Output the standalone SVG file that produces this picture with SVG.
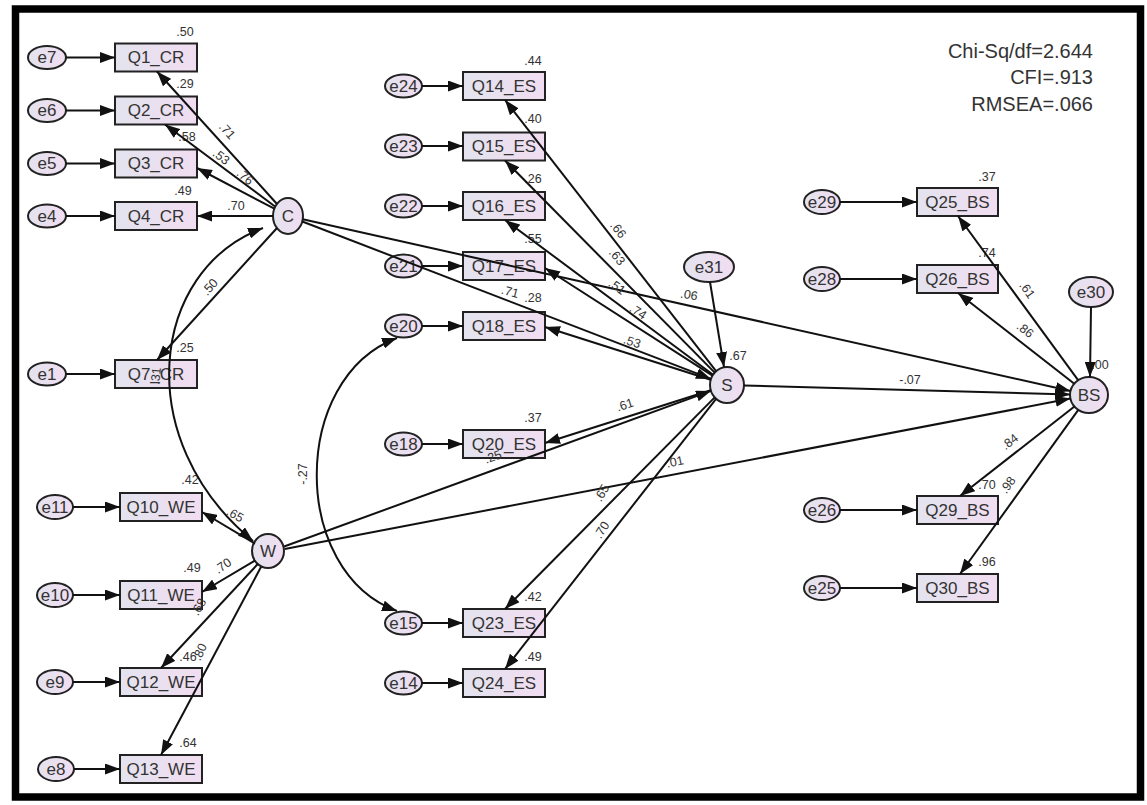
<svg xmlns="http://www.w3.org/2000/svg" width="1147" height="805" viewBox="0 0 1147 805">
<defs>
<linearGradient id="g" x1="0" y1="0" x2="1" y2="0">
<stop offset="0" stop-color="#e3e3ee"/>
<stop offset="1" stop-color="#f1ddf1"/>
</linearGradient>
<marker id="a" markerUnits="userSpaceOnUse" markerWidth="15" markerHeight="11" refX="15" refY="5.5" orient="auto-start-reverse">
<path d="M0,0 L15,5.5 L0,11 z" fill="#111"/>
</marker>
<style>
.r{fill:url(#g);stroke:#222;stroke-width:2}
.e{fill:url(#g);stroke:#222;stroke-width:2}
.t{font-family:"Liberation Sans",Arial,sans-serif;font-size:17px;fill:#333;text-anchor:middle;dominant-baseline:central}
.l{font-family:"Liberation Sans",Arial,sans-serif;font-size:12.5px;fill:#333;text-anchor:middle;dominant-baseline:central}
.f{font-family:"Liberation Sans",Arial,sans-serif;font-size:20px;fill:#333;text-anchor:end}
.c{stroke:#111;stroke-width:2;fill:none;marker-end:url(#a)}
.cv{stroke:#111;stroke-width:2;fill:none;marker-start:url(#a);marker-end:url(#a)}
</style>
</defs>
<rect x="0" y="0" width="1147" height="805" fill="#fff"/>
<rect x="15.5" y="9" width="1125" height="788" fill="none" stroke="#000" stroke-width="7.5"/>

<g id="C"><ellipse class="e" cx="288" cy="216" rx="15" ry="18"/><text class="t" x="288" y="216">C</text></g>
<g id="W"><ellipse class="e" cx="268" cy="551" rx="16" ry="17"/><text class="t" x="268" y="551">W</text></g>
<g id="S"><ellipse class="e" cx="727" cy="385" rx="17" ry="18"/><text class="t" x="727" y="385">S</text><text class="l" x="738" y="356">.67</text></g>
<g id="BS"><ellipse class="e" cx="1089" cy="395" rx="19" ry="18"/><text class="t" x="1089" y="395">BS</text><text class="l" x="1100" y="365">.00</text></g>
<g id="e31"><ellipse class="e" cx="709" cy="267" rx="25" ry="15"/><text class="t" x="709" y="267">e31</text></g>
<g id="e30"><ellipse class="e" cx="1091" cy="292" rx="22" ry="15"/><text class="t" x="1091" y="292">e30</text></g>

<g id="Q1_CR"><rect class="r" x="115" y="43.5" width="82" height="28"/><text class="t" x="156" y="57.5">Q1_CR</text><text class="l" x="185" y="32">.50</text></g>
<g id="Q2_CR"><rect class="r" x="115" y="96.5" width="82" height="28"/><text class="t" x="156" y="110.5">Q2_CR</text><text class="l" x="185" y="84">.29</text></g>
<g id="Q3_CR"><rect class="r" x="115" y="149.5" width="82" height="28"/><text class="t" x="156" y="163.5">Q3_CR</text><text class="l" x="187" y="137">.58</text></g>
<g id="Q4_CR"><rect class="r" x="115" y="202" width="82" height="28"/><text class="t" x="156" y="216">Q4_CR</text><text class="l" x="183" y="191">.49</text></g>
<g id="Q7_CR"><rect class="r" x="115" y="360" width="82" height="28"/><text class="t" x="156" y="374">Q7_CR</text><text class="l" x="185" y="348">.25</text></g>
<g id="Q10_WE"><rect class="r" x="120" y="493" width="82" height="28"/><text class="t" x="161" y="507">Q10_WE</text><text class="l" x="190" y="480">.42</text></g>
<g id="Q11_WE"><rect class="r" x="120" y="581" width="82" height="28"/><text class="t" x="161" y="595">Q11_WE</text><text class="l" x="192" y="568">.49</text></g>
<g id="Q12_WE"><rect class="r" x="120" y="668" width="82" height="28"/><text class="t" x="161" y="682">Q12_WE</text><text class="l" x="188" y="657">.46</text></g>
<g id="Q13_WE"><rect class="r" x="120" y="755" width="82" height="28"/><text class="t" x="161" y="769">Q13_WE</text><text class="l" x="188" y="743">.64</text></g>
<g id="Q14_ES"><rect class="r" x="463" y="72" width="82" height="28"/><text class="t" x="504" y="86">Q14_ES</text><text class="l" x="533" y="61">.44</text></g>
<g id="Q15_ES"><rect class="r" x="463" y="132.5" width="82" height="28"/><text class="t" x="504" y="146">Q15_ES</text><text class="l" x="533" y="119">.40</text></g>
<g id="Q16_ES"><rect class="r" x="463" y="192" width="82" height="28"/><text class="t" x="504" y="206">Q16_ES</text><text class="l" x="533" y="179">.26</text></g>
<g id="Q17_ES"><rect class="r" x="463" y="252" width="82" height="28"/><text class="t" x="504" y="266">Q17_ES</text><text class="l" x="533" y="239">.55</text></g>
<g id="Q18_ES"><rect class="r" x="463" y="312" width="82" height="28"/><text class="t" x="504" y="326">Q18_ES</text><text class="l" x="533" y="298">.28</text></g>
<g id="Q20_ES"><rect class="r" x="463" y="430" width="82" height="28"/><text class="t" x="504" y="444">Q20_ES</text><text class="l" x="533" y="418">.37</text></g>
<g id="Q23_ES"><rect class="r" x="463" y="609" width="82" height="28"/><text class="t" x="504" y="623">Q23_ES</text><text class="l" x="533" y="597">.42</text></g>
<g id="Q24_ES"><rect class="r" x="463" y="669" width="82" height="28"/><text class="t" x="504" y="683">Q24_ES</text><text class="l" x="533" y="657">.49</text></g>
<g id="Q25_BS"><rect class="r" x="917" y="188" width="81" height="28"/><text class="t" x="957.5" y="202">Q25_BS</text><text class="l" x="987" y="177">.37</text></g>
<g id="Q26_BS"><rect class="r" x="917" y="265" width="81" height="28"/><text class="t" x="957.5" y="279">Q26_BS</text><text class="l" x="987" y="253">.74</text></g>
<g id="Q29_BS"><rect class="r" x="917" y="496" width="81" height="28"/><text class="t" x="957.5" y="510">Q29_BS</text><text class="l" x="987" y="485">.70</text></g>
<g id="Q30_BS"><rect class="r" x="917" y="574" width="81" height="28"/><text class="t" x="957.5" y="588">Q30_BS</text><text class="l" x="987" y="562">.96</text></g>

<g id="e7"><ellipse class="e" cx="47" cy="57.5" rx="19" ry="11.5"/><text class="t" x="47" y="57.5">e7</text></g>
<g id="e6"><ellipse class="e" cx="47" cy="110.5" rx="19" ry="11.5"/><text class="t" x="47" y="110.5">e6</text></g>
<g id="e5"><ellipse class="e" cx="47" cy="163.5" rx="19" ry="11.5"/><text class="t" x="47" y="163.5">e5</text></g>
<g id="e4"><ellipse class="e" cx="47" cy="216" rx="19" ry="11.5"/><text class="t" x="47" y="216">e4</text></g>
<g id="e1"><ellipse class="e" cx="47" cy="374" rx="19" ry="11.5"/><text class="t" x="47" y="374">e1</text></g>
<g id="e11"><ellipse class="e" cx="55" cy="507" rx="18" ry="12"/><text class="t" x="55" y="507">e11</text></g>
<g id="e10"><ellipse class="e" cx="55" cy="595" rx="18" ry="12"/><text class="t" x="55" y="595">e10</text></g>
<g id="e9"><ellipse class="e" cx="55" cy="682" rx="18" ry="12"/><text class="t" x="55" y="682">e9</text></g>
<g id="e8"><ellipse class="e" cx="56" cy="769" rx="18" ry="12"/><text class="t" x="56" y="769">e8</text></g>
<g id="e24"><ellipse class="e" cx="403.5" cy="86" rx="18.5" ry="11.5"/><text class="t" x="403.5" y="86">e24</text></g>
<g id="e23"><ellipse class="e" cx="403.5" cy="146" rx="18.5" ry="11.5"/><text class="t" x="403.5" y="146">e23</text></g>
<g id="e22"><ellipse class="e" cx="403.5" cy="206" rx="18.5" ry="11.5"/><text class="t" x="403.5" y="206">e22</text></g>
<g id="e21"><ellipse class="e" cx="403.5" cy="266" rx="18.5" ry="11.5"/><text class="t" x="403.5" y="266">e21</text></g>
<g id="e20"><ellipse class="e" cx="403.5" cy="326" rx="18.5" ry="11.5"/><text class="t" x="403.5" y="326">e20</text></g>
<g id="e18"><ellipse class="e" cx="403.5" cy="444" rx="18.5" ry="11.5"/><text class="t" x="403.5" y="444">e18</text></g>
<g id="e15"><ellipse class="e" cx="403.5" cy="623" rx="18.5" ry="11.5"/><text class="t" x="403.5" y="623">e15</text></g>
<g id="e14"><ellipse class="e" cx="403.5" cy="683" rx="18.5" ry="11.5"/><text class="t" x="403.5" y="683">e14</text></g>
<g id="e29"><ellipse class="e" cx="822" cy="202" rx="18" ry="12"/><text class="t" x="822" y="202">e29</text></g>
<g id="e28"><ellipse class="e" cx="822" cy="279" rx="18" ry="12"/><text class="t" x="822" y="279">e28</text></g>
<g id="e26"><ellipse class="e" cx="822" cy="510" rx="18" ry="12"/><text class="t" x="822" y="510">e26</text></g>
<g id="e25"><ellipse class="e" cx="822" cy="588" rx="18" ry="12"/><text class="t" x="822" y="588">e25</text></g>

<g id="connectors">
<line class="c" x1="66" y1="57.5" x2="115" y2="57.5"/>
<line class="c" x1="66" y1="110.5" x2="115" y2="110.5"/>
<line class="c" x1="66" y1="163.5" x2="115" y2="163.5"/>
<line class="c" x1="66" y1="216" x2="115" y2="216"/>
<line class="c" x1="66" y1="374" x2="115" y2="374"/>
<line class="c" x1="73" y1="507" x2="120" y2="507"/>
<line class="c" x1="73" y1="595" x2="120" y2="595"/>
<line class="c" x1="73" y1="682" x2="120" y2="682"/>
<line class="c" x1="74" y1="769" x2="120" y2="769"/>
<line class="c" x1="422" y1="86" x2="463" y2="86"/>
<line class="c" x1="422" y1="146" x2="463" y2="146"/>
<line class="c" x1="422" y1="206" x2="463" y2="206"/>
<line class="c" x1="422" y1="266" x2="463" y2="266"/>
<line class="c" x1="422" y1="326" x2="463" y2="326"/>
<line class="c" x1="422" y1="444" x2="463" y2="444"/>
<line class="c" x1="422" y1="623" x2="463" y2="623"/>
<line class="c" x1="422" y1="683" x2="463" y2="683"/>
<line class="c" x1="840" y1="202" x2="917" y2="202"/>
<line class="c" x1="840" y1="279" x2="917" y2="279"/>
<line class="c" x1="840" y1="510" x2="917" y2="510"/>
<line class="c" x1="840" y1="588" x2="917" y2="588"/>
<line class="c" x1="710" y1="282" x2="724" y2="367"/>
<line class="c" x1="1091" y1="307" x2="1090" y2="377"/>
<line class="c" x1="277" y1="204" x2="157" y2="71.5"/>
<line class="c" x1="275" y1="206.5" x2="165" y2="124.5"/>
<line class="c" x1="274.3" y1="208.7" x2="197" y2="168"/>
<line class="c" x1="273" y1="216" x2="197" y2="216"/>
<line class="c" x1="277" y1="228" x2="157" y2="360"/>
<line class="c" x1="255" y1="543.7" x2="202" y2="512"/>
<line class="c" x1="255.3" y1="560.3" x2="202" y2="592"/>
<line class="c" x1="257.8" y1="564" x2="161" y2="668"/>
<line class="c" x1="261.1" y1="566.8" x2="161" y2="755"/>
<line class="c" x1="716.1" y1="371.1" x2="505" y2="100"/>
<line class="c" x1="714.7" y1="372.6" x2="505" y2="160.5"/>
<line class="c" x1="713.1" y1="374.7" x2="505" y2="220"/>
<line class="c" x1="712.5" y1="375.6" x2="545" y2="268"/>
<line class="c" x1="710.7" y1="379.8" x2="545" y2="327"/>
<line class="c" x1="710.7" y1="390.2" x2="545" y2="443"/>
<line class="c" x1="714.7" y1="397.4" x2="505" y2="609"/>
<line class="c" x1="716.1" y1="398.9" x2="505" y2="669"/>
<line class="c" x1="1078.1" y1="380.2" x2="958" y2="216"/>
<line class="c" x1="1074.3" y1="383.7" x2="958" y2="293"/>
<line class="c" x1="1074.4" y1="406.5" x2="960" y2="496"/>
<line class="c" x1="1078.3" y1="409.9" x2="960" y2="574"/>
<line class="c" x1="302.3" y1="221.5" x2="711" y2="378.9"/>
<line class="c" x1="302.8" y1="219.3" x2="1070.5" y2="390.9"/>
<line class="c" x1="284.1" y1="546.5" x2="710.9" y2="390.9"/>
<line class="c" x1="284.7" y1="549" x2="1070.4" y2="398.6"/>
<line class="c" x1="744" y1="385.5" x2="1070" y2="394.5"/>
<path class="cv" d="M263,228 C150,270 130,440 253,541"/>
<path class="cv" d="M397,338 C290,378 290,572 397,611"/>
</g>

<g id="coefficients">
<text class="l" x="227" y="131" transform="rotate(48 227 131)">.71</text>
<text class="l" x="221" y="157" transform="rotate(37 221 157)">.53</text>
<text class="l" x="245" y="177" transform="rotate(40 245 177)">.76</text>
<text class="l" x="236" y="206">.70</text>
<text class="l" x="210" y="287" transform="rotate(-48 210 287)">.50</text>
<text class="l" x="156" y="376" transform="rotate(-85 156 376)">.31</text>
<text class="l" x="235" y="515" transform="rotate(30 235 515)">.65</text>
<text class="l" x="223" y="566" transform="rotate(-35 223 566)">.70</text>
<text class="l" x="199" y="607" transform="rotate(-60 199 607)">.68</text>
<text class="l" x="200" y="652" transform="rotate(-65 200 652)">.80</text>
<text class="l" x="618" y="230" transform="rotate(52 618 230)">.66</text>
<text class="l" x="617" y="257" transform="rotate(50 617 257)">.63</text>
<text class="l" x="617" y="287" transform="rotate(35 617 287)">.51</text>
<text class="l" x="638" y="312" transform="rotate(33 638 312)">.74</text>
<text class="l" x="632" y="342" transform="rotate(18 632 342)">.53</text>
<text class="l" x="510" y="292" transform="rotate(15 510 292)">.71</text>
<text class="l" x="689" y="295" transform="rotate(10 689 295)">.06</text>
<text class="l" x="625" y="405" transform="rotate(-18 625 405)">.61</text>
<text class="l" x="493" y="457" transform="rotate(-20 493 457)">.25</text>
<text class="l" x="675" y="462" transform="rotate(-12 675 462)">.01</text>
<text class="l" x="602" y="493" transform="rotate(-60 602 493)">.65</text>
<text class="l" x="602" y="530" transform="rotate(-58 602 530)">.70</text>
<text class="l" x="303" y="474" transform="rotate(-90 303 474)">-.27</text>
<text class="l" x="910" y="380">-.07</text>
<text class="l" x="1027" y="290" transform="rotate(55 1027 290)">.61</text>
<text class="l" x="1025" y="330" transform="rotate(38 1025 330)">.86</text>
<text class="l" x="1010" y="442" transform="rotate(-38 1010 442)">.84</text>
<text class="l" x="1008" y="485" transform="rotate(-55 1008 485)">.98</text>
</g>

<g id="fit">
<text class="f" x="1093" y="58">Chi-Sq/df=2.644</text>
<text class="f" x="1093" y="84">CFI=.913</text>
<text class="f" x="1093" y="111">RMSEA=.066</text>
</g>
</svg>
